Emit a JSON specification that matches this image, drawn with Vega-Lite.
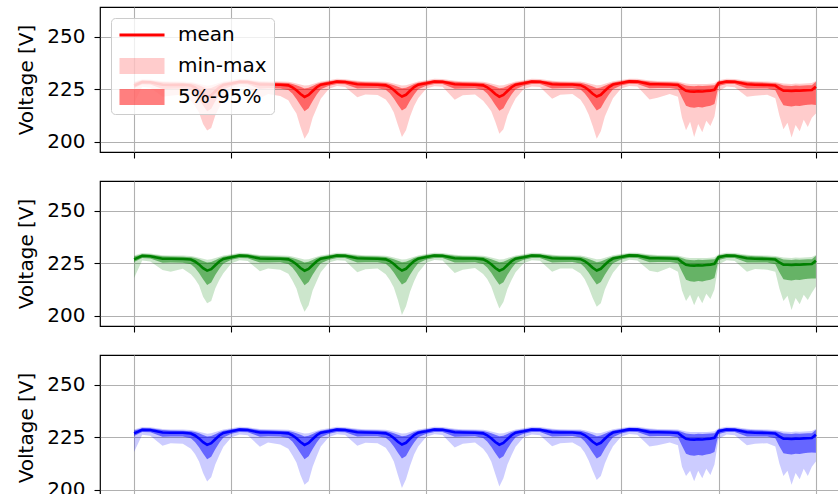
{
"$schema": "https://vega.github.io/schema/vega-lite/v6.json",
"background": "white",
"padding": {"left": 16, "top": 6, "right": 0, "bottom": 0},
"spacing": 29,
"bounds": "flush",
"config": {
  "font": "DejaVu Sans",
  "view": {"stroke": "black", "strokeWidth": 1.2},
  "axis": {"labelFont": "DejaVu Sans", "labelFontSize": 20, "labelColor": "black", "titleFont": "DejaVu Sans", "titleFontSize": 20, "titleFontWeight": "normal", "titleColor": "black", "tickColor": "black", "tickWidth": 1.1, "tickSize": 6, "gridColor": "#b0b0b0", "gridWidth": 1.1, "domain": false, "labelPadding": 9, "titlePadding": 10}
},
"datasets": {"v": [
{"p":1,"t":0,"m":226.8,"a":225.6,"b":228.2,"l":218.5,"h":228.6},
{"p":1,"t":2,"m":228.5,"a":227.4,"b":229.3,"l":226.2,"h":229.8},
{"p":1,"t":4,"m":228.4,"a":227.3,"b":229.2,"l":225.8,"h":229.7},
{"p":1,"t":7,"m":227.2,"a":225.2,"b":228.4,"l":221.5,"h":228.9},
{"p":1,"t":9,"m":227.1,"a":225.3,"b":228.3,"l":222.0,"h":228.8},
{"p":1,"t":12,"m":227.2,"a":225.4,"b":228.2,"l":222.5,"h":228.7},
{"p":1,"t":14,"m":226.8,"a":224.6,"b":227.9,"l":219.5,"h":228.5},
{"p":1,"t":15,"m":225.9,"a":222.8,"b":227.5,"l":217.0,"h":228.2},
{"p":1,"t":16,"m":224.5,"a":220.3,"b":226.9,"l":214.0,"h":227.7},
{"p":1,"t":17,"m":222.7,"a":217.3,"b":226.1,"l":208.5,"h":227.2},
{"p":1,"t":18,"m":221.4,"a":214.6,"b":225.4,"l":205.4,"h":226.7},
{"p":1,"t":19,"m":222.2,"a":215.8,"b":225.7,"l":206.5,"h":226.9},
{"p":1,"t":20,"m":224.1,"a":219.3,"b":226.5,"l":212.5,"h":227.5},
{"p":1,"t":21,"m":225.9,"a":222.4,"b":227.4,"l":216.5,"h":228.1},
{"p":1,"t":22,"m":227.1,"a":224.9,"b":228.1,"l":220.0,"h":228.7},
{"p":1,"t":24,"m":227.8,"a":226.6,"b":228.8,"l":225.2,"h":229.3},
{"p":1,"t":26,"m":228.6,"a":227.5,"b":229.4,"l":226.4,"h":229.9},
{"p":1,"t":28,"m":228.5,"a":227.4,"b":229.3,"l":226.0,"h":229.8},
{"p":1,"t":31,"m":227.3,"a":225.3,"b":228.5,"l":220.8,"h":229.0},
{"p":1,"t":33,"m":227.3,"a":225.5,"b":228.4,"l":222.8,"h":228.9},
{"p":1,"t":36,"m":227.2,"a":225.4,"b":228.2,"l":221.8,"h":228.8},
{"p":1,"t":38,"m":226.9,"a":224.7,"b":228.0,"l":219.8,"h":228.6},
{"p":1,"t":39,"m":226.0,"a":223.0,"b":227.6,"l":216.5,"h":228.3},
{"p":1,"t":40,"m":224.6,"a":220.4,"b":227.0,"l":213.5,"h":227.8},
{"p":1,"t":41,"m":222.8,"a":217.4,"b":226.2,"l":207.0,"h":227.3},
{"p":1,"t":42,"m":221.4,"a":214.5,"b":225.4,"l":201.4,"h":226.8},
{"p":1,"t":43,"m":222.3,"a":216.0,"b":225.8,"l":204.5,"h":227.0},
{"p":1,"t":44,"m":224.2,"a":219.4,"b":226.6,"l":211.5,"h":227.6},
{"p":1,"t":45,"m":226.0,"a":222.5,"b":227.5,"l":216.0,"h":228.2},
{"p":1,"t":46,"m":227.2,"a":225.0,"b":228.2,"l":220.5,"h":228.8},
{"p":1,"t":48,"m":227.9,"a":226.7,"b":228.9,"l":225.3,"h":229.4},
{"p":1,"t":50,"m":228.7,"a":227.6,"b":229.5,"l":226.6,"h":230.0},
{"p":1,"t":52,"m":228.5,"a":227.4,"b":229.3,"l":226.1,"h":229.8},
{"p":1,"t":55,"m":227.4,"a":225.4,"b":228.6,"l":221.2,"h":229.1},
{"p":1,"t":57,"m":227.3,"a":225.5,"b":228.4,"l":222.6,"h":228.9},
{"p":1,"t":60,"m":227.2,"a":225.5,"b":228.3,"l":222.3,"h":228.8},
{"p":1,"t":62,"m":226.9,"a":224.8,"b":228.0,"l":220.2,"h":228.6},
{"p":1,"t":63,"m":226.1,"a":223.1,"b":227.6,"l":217.5,"h":228.3},
{"p":1,"t":64,"m":224.7,"a":220.6,"b":227.0,"l":214.0,"h":227.8},
{"p":1,"t":65,"m":222.9,"a":217.6,"b":226.2,"l":208.0,"h":227.3},
{"p":1,"t":66,"m":221.6,"a":214.9,"b":225.5,"l":202.2,"h":226.8},
{"p":1,"t":67,"m":222.4,"a":216.1,"b":225.8,"l":205.5,"h":227.0},
{"p":1,"t":68,"m":224.3,"a":219.6,"b":226.6,"l":212.0,"h":227.6},
{"p":1,"t":69,"m":226.1,"a":222.6,"b":227.5,"l":217.0,"h":228.2},
{"p":1,"t":70,"m":227.2,"a":225.0,"b":228.2,"l":220.8,"h":228.8},
{"p":1,"t":72,"m":227.9,"a":226.7,"b":228.9,"l":225.4,"h":229.4},
{"p":1,"t":74,"m":228.7,"a":227.6,"b":229.5,"l":226.5,"h":230.0},
{"p":1,"t":76,"m":228.6,"a":227.5,"b":229.4,"l":226.2,"h":229.9},
{"p":1,"t":79,"m":227.4,"a":225.3,"b":228.6,"l":220.0,"h":229.1},
{"p":1,"t":81,"m":227.3,"a":225.4,"b":228.4,"l":222.2,"h":228.9},
{"p":1,"t":84,"m":227.2,"a":225.5,"b":228.3,"l":222.6,"h":228.8},
{"p":1,"t":86,"m":226.9,"a":224.7,"b":228.0,"l":219.6,"h":228.6},
{"p":1,"t":87,"m":226.0,"a":223.0,"b":227.6,"l":217.2,"h":228.3},
{"p":1,"t":88,"m":224.6,"a":220.5,"b":227.0,"l":214.5,"h":227.8},
{"p":1,"t":89,"m":222.8,"a":217.5,"b":226.2,"l":209.5,"h":227.3},
{"p":1,"t":90,"m":221.5,"a":214.8,"b":225.5,"l":203.8,"h":226.8},
{"p":1,"t":91,"m":222.3,"a":216.0,"b":225.8,"l":206.0,"h":227.0},
{"p":1,"t":92,"m":224.2,"a":219.5,"b":226.6,"l":212.5,"h":227.6},
{"p":1,"t":93,"m":226.0,"a":222.5,"b":227.5,"l":216.8,"h":228.2},
{"p":1,"t":94,"m":227.2,"a":225.0,"b":228.2,"l":220.6,"h":228.8},
{"p":1,"t":96,"m":227.9,"a":226.7,"b":228.9,"l":225.2,"h":229.4},
{"p":1,"t":98,"m":228.7,"a":227.6,"b":229.5,"l":226.4,"h":230.0},
{"p":1,"t":100,"m":228.6,"a":227.5,"b":229.4,"l":226.1,"h":229.9},
{"p":1,"t":103,"m":227.4,"a":225.4,"b":228.6,"l":220.5,"h":229.1},
{"p":1,"t":105,"m":227.3,"a":225.5,"b":228.4,"l":222.4,"h":228.9},
{"p":1,"t":108,"m":227.3,"a":225.6,"b":228.3,"l":222.8,"h":228.8},
{"p":1,"t":110,"m":227.0,"a":224.9,"b":228.1,"l":220.0,"h":228.7},
{"p":1,"t":111,"m":226.1,"a":223.1,"b":227.7,"l":217.0,"h":228.4},
{"p":1,"t":112,"m":224.7,"a":220.6,"b":227.1,"l":213.0,"h":227.9},
{"p":1,"t":113,"m":222.9,"a":217.6,"b":226.3,"l":207.5,"h":227.4},
{"p":1,"t":114,"m":221.6,"a":214.9,"b":225.5,"l":201.4,"h":226.9},
{"p":1,"t":115,"m":222.4,"a":216.1,"b":225.9,"l":205.0,"h":227.1},
{"p":1,"t":116,"m":224.3,"a":219.6,"b":226.7,"l":212.0,"h":227.7},
{"p":1,"t":117,"m":226.1,"a":222.6,"b":227.6,"l":216.5,"h":228.3},
{"p":1,"t":118,"m":227.3,"a":225.1,"b":228.3,"l":220.8,"h":228.9},
{"p":1,"t":120,"m":228.0,"a":226.8,"b":229.0,"l":225.4,"h":229.5},
{"p":1,"t":122,"m":228.8,"a":227.7,"b":229.6,"l":226.6,"h":230.1},
{"p":1,"t":124,"m":228.7,"a":227.6,"b":229.5,"l":226.3,"h":230.0},
{"p":1,"t":127,"m":227.5,"a":225.5,"b":228.7,"l":220.2,"h":229.2},
{"p":1,"t":129,"m":227.4,"a":225.6,"b":228.5,"l":221.0,"h":229.0},
{"p":1,"t":132,"m":227.3,"a":225.6,"b":228.4,"l":222.8,"h":228.9},
{"p":1,"t":134,"m":227.1,"a":225.0,"b":228.2,"l":221.5,"h":228.7},
{"p":1,"t":135,"m":225.6,"a":221.0,"b":227.6,"l":211.5,"h":228.3},
{"p":1,"t":136,"m":224.3,"a":217.2,"b":226.8,"l":205.5,"h":227.8},
{"p":1,"t":137,"m":224.0,"a":216.5,"b":226.6,"l":209.5,"h":227.6},
{"p":1,"t":138,"m":223.9,"a":216.2,"b":226.5,"l":202.2,"h":227.5},
{"p":1,"t":139,"m":224.1,"a":216.6,"b":226.7,"l":208.5,"h":227.6},
{"p":1,"t":140,"m":224.0,"a":216.3,"b":226.6,"l":204.5,"h":227.5},
{"p":1,"t":141,"m":224.2,"a":216.8,"b":226.7,"l":210.0,"h":227.6},
{"p":1,"t":142,"m":224.4,"a":217.2,"b":226.8,"l":207.5,"h":227.7},
{"p":1,"t":143,"m":224.8,"a":218.0,"b":227.0,"l":212.0,"h":227.9},
{"p":1,"t":144,"m":227.9,"a":226.6,"b":228.9,"l":224.0,"h":229.4},
{"p":1,"t":146,"m":228.7,"a":227.6,"b":229.5,"l":226.4,"h":230.0},
{"p":1,"t":148,"m":228.6,"a":227.5,"b":229.4,"l":226.0,"h":229.9},
{"p":1,"t":151,"m":227.4,"a":225.4,"b":228.6,"l":221.5,"h":229.1},
{"p":1,"t":153,"m":227.2,"a":225.4,"b":228.4,"l":222.0,"h":228.9},
{"p":1,"t":156,"m":227.1,"a":225.4,"b":228.2,"l":222.4,"h":228.7},
{"p":1,"t":158,"m":226.8,"a":224.6,"b":227.9,"l":220.8,"h":228.5},
{"p":1,"t":159,"m":225.4,"a":220.8,"b":227.5,"l":212.5,"h":228.2},
{"p":1,"t":160,"m":224.4,"a":217.4,"b":226.8,"l":206.0,"h":227.8},
{"p":1,"t":161,"m":224.3,"a":217.0,"b":226.7,"l":209.0,"h":227.7},
{"p":1,"t":162,"m":224.2,"a":216.8,"b":226.6,"l":202.0,"h":227.6},
{"p":1,"t":163,"m":224.4,"a":217.2,"b":226.8,"l":208.0,"h":227.8},
{"p":1,"t":164,"m":224.3,"a":217.0,"b":226.7,"l":205.0,"h":227.7},
{"p":1,"t":165,"m":224.5,"a":217.4,"b":226.8,"l":210.5,"h":227.8},
{"p":1,"t":166,"m":224.6,"a":217.6,"b":226.9,"l":207.0,"h":227.9},
{"p":1,"t":167,"m":224.7,"a":217.8,"b":227.0,"l":211.5,"h":228.0},
{"p":1,"t":168,"m":226.3,"a":217.5,"b":228.6,"l":213.5,"h":229.0},
{"p":2,"t":0,"m":226.9,"a":225.7,"b":228.3,"l":218.0,"h":228.7},
{"p":2,"t":2,"m":228.6,"a":227.5,"b":229.4,"l":226.3,"h":229.9},
{"p":2,"t":4,"m":228.4,"a":227.3,"b":229.2,"l":225.9,"h":229.7},
{"p":2,"t":7,"m":227.2,"a":225.3,"b":228.4,"l":221.8,"h":228.9},
{"p":2,"t":9,"m":227.2,"a":225.4,"b":228.3,"l":221.0,"h":228.8},
{"p":2,"t":12,"m":227.1,"a":225.3,"b":228.2,"l":222.4,"h":228.7},
{"p":2,"t":14,"m":226.8,"a":224.6,"b":227.9,"l":219.8,"h":228.5},
{"p":2,"t":15,"m":225.9,"a":222.9,"b":227.5,"l":217.5,"h":228.2},
{"p":2,"t":16,"m":224.5,"a":220.4,"b":226.9,"l":214.5,"h":227.7},
{"p":2,"t":17,"m":222.7,"a":217.4,"b":226.1,"l":209.0,"h":227.2},
{"p":2,"t":18,"m":221.5,"a":214.7,"b":225.4,"l":205.9,"h":226.7},
{"p":2,"t":19,"m":222.2,"a":215.9,"b":225.7,"l":207.0,"h":226.9},
{"p":2,"t":20,"m":224.1,"a":219.4,"b":226.5,"l":213.0,"h":227.5},
{"p":2,"t":21,"m":225.9,"a":222.4,"b":227.4,"l":217.0,"h":228.1},
{"p":2,"t":22,"m":227.1,"a":224.9,"b":228.1,"l":220.3,"h":228.7},
{"p":2,"t":24,"m":227.9,"a":226.7,"b":228.9,"l":225.0,"h":229.4},
{"p":2,"t":26,"m":228.7,"a":227.6,"b":229.5,"l":226.5,"h":230.0},
{"p":2,"t":28,"m":228.5,"a":227.4,"b":229.3,"l":226.1,"h":229.8},
{"p":2,"t":31,"m":227.3,"a":225.4,"b":228.5,"l":221.2,"h":229.0},
{"p":2,"t":33,"m":227.2,"a":225.4,"b":228.4,"l":222.5,"h":228.9},
{"p":2,"t":36,"m":227.2,"a":225.5,"b":228.2,"l":222.0,"h":228.8},
{"p":2,"t":38,"m":226.9,"a":224.7,"b":228.0,"l":220.0,"h":228.6},
{"p":2,"t":39,"m":226.0,"a":223.0,"b":227.6,"l":216.8,"h":228.3},
{"p":2,"t":40,"m":224.6,"a":220.5,"b":227.0,"l":213.0,"h":227.8},
{"p":2,"t":41,"m":222.8,"a":217.5,"b":226.2,"l":206.5,"h":227.3},
{"p":2,"t":42,"m":221.5,"a":214.6,"b":225.4,"l":201.9,"h":226.8},
{"p":2,"t":43,"m":222.3,"a":216.1,"b":225.8,"l":205.0,"h":227.0},
{"p":2,"t":44,"m":224.2,"a":219.5,"b":226.6,"l":212.0,"h":227.6},
{"p":2,"t":45,"m":226.0,"a":222.5,"b":227.5,"l":216.5,"h":228.2},
{"p":2,"t":46,"m":227.2,"a":225.0,"b":228.2,"l":220.8,"h":228.8},
{"p":2,"t":48,"m":227.9,"a":226.7,"b":228.9,"l":225.4,"h":229.4},
{"p":2,"t":50,"m":228.7,"a":227.6,"b":229.5,"l":226.5,"h":230.0},
{"p":2,"t":52,"m":228.6,"a":227.5,"b":229.4,"l":226.2,"h":229.9},
{"p":2,"t":55,"m":227.4,"a":225.4,"b":228.6,"l":220.8,"h":229.1},
{"p":2,"t":57,"m":227.3,"a":225.5,"b":228.4,"l":222.2,"h":228.9},
{"p":2,"t":60,"m":227.2,"a":225.5,"b":228.3,"l":222.6,"h":228.8},
{"p":2,"t":62,"m":226.9,"a":224.8,"b":228.0,"l":219.8,"h":228.6},
{"p":2,"t":63,"m":226.1,"a":223.1,"b":227.6,"l":217.0,"h":228.3},
{"p":2,"t":64,"m":224.7,"a":220.6,"b":227.0,"l":213.5,"h":227.8},
{"p":2,"t":65,"m":222.9,"a":217.6,"b":226.2,"l":207.5,"h":227.3},
{"p":2,"t":66,"m":221.6,"a":214.9,"b":225.5,"l":200.3,"h":226.8},
{"p":2,"t":67,"m":222.4,"a":216.1,"b":225.8,"l":204.5,"h":227.0},
{"p":2,"t":68,"m":224.3,"a":219.6,"b":226.6,"l":211.5,"h":227.6},
{"p":2,"t":69,"m":226.1,"a":222.6,"b":227.5,"l":216.5,"h":228.2},
{"p":2,"t":70,"m":227.2,"a":225.0,"b":228.2,"l":220.5,"h":228.8},
{"p":2,"t":72,"m":228.0,"a":226.8,"b":229.0,"l":225.3,"h":229.5},
{"p":2,"t":74,"m":228.7,"a":227.6,"b":229.5,"l":226.6,"h":230.0},
{"p":2,"t":76,"m":228.6,"a":227.5,"b":229.4,"l":226.3,"h":229.9},
{"p":2,"t":79,"m":227.4,"a":225.4,"b":228.6,"l":220.4,"h":229.1},
{"p":2,"t":81,"m":227.3,"a":225.4,"b":228.4,"l":222.0,"h":228.9},
{"p":2,"t":84,"m":227.3,"a":225.5,"b":228.3,"l":222.8,"h":228.8},
{"p":2,"t":86,"m":226.9,"a":224.7,"b":228.0,"l":219.9,"h":228.6},
{"p":2,"t":87,"m":226.0,"a":223.0,"b":227.6,"l":217.5,"h":228.3},
{"p":2,"t":88,"m":224.6,"a":220.5,"b":227.0,"l":214.0,"h":227.8},
{"p":2,"t":89,"m":222.8,"a":217.5,"b":226.2,"l":208.5,"h":227.3},
{"p":2,"t":90,"m":221.5,"a":214.8,"b":225.5,"l":203.5,"h":226.8},
{"p":2,"t":91,"m":222.3,"a":216.0,"b":225.8,"l":206.5,"h":227.0},
{"p":2,"t":92,"m":224.2,"a":219.5,"b":226.6,"l":212.8,"h":227.6},
{"p":2,"t":93,"m":226.0,"a":222.5,"b":227.5,"l":217.0,"h":228.2},
{"p":2,"t":94,"m":227.2,"a":225.0,"b":228.2,"l":220.8,"h":228.8},
{"p":2,"t":96,"m":227.9,"a":226.7,"b":228.9,"l":225.0,"h":229.4},
{"p":2,"t":98,"m":228.7,"a":227.6,"b":229.5,"l":226.5,"h":230.0},
{"p":2,"t":100,"m":228.6,"a":227.5,"b":229.4,"l":226.2,"h":229.9},
{"p":2,"t":103,"m":227.4,"a":225.4,"b":228.6,"l":221.0,"h":229.1},
{"p":2,"t":105,"m":227.3,"a":225.5,"b":228.4,"l":222.6,"h":228.9},
{"p":2,"t":108,"m":227.3,"a":225.6,"b":228.3,"l":222.5,"h":228.8},
{"p":2,"t":110,"m":227.0,"a":224.9,"b":228.1,"l":220.2,"h":228.7},
{"p":2,"t":111,"m":226.1,"a":223.1,"b":227.7,"l":217.5,"h":228.4},
{"p":2,"t":112,"m":224.7,"a":220.6,"b":227.1,"l":213.5,"h":227.9},
{"p":2,"t":113,"m":222.9,"a":217.6,"b":226.3,"l":208.5,"h":227.4},
{"p":2,"t":114,"m":221.6,"a":214.9,"b":225.5,"l":204.3,"h":226.9},
{"p":2,"t":115,"m":222.4,"a":216.1,"b":225.9,"l":206.0,"h":227.1},
{"p":2,"t":116,"m":224.3,"a":219.6,"b":226.7,"l":212.5,"h":227.7},
{"p":2,"t":117,"m":226.1,"a":222.6,"b":227.6,"l":216.8,"h":228.3},
{"p":2,"t":118,"m":227.3,"a":225.1,"b":228.3,"l":220.5,"h":228.9},
{"p":2,"t":120,"m":228.0,"a":226.8,"b":229.0,"l":225.2,"h":229.5},
{"p":2,"t":122,"m":228.8,"a":227.7,"b":229.6,"l":226.7,"h":230.1},
{"p":2,"t":124,"m":228.7,"a":227.6,"b":229.5,"l":226.4,"h":230.0},
{"p":2,"t":127,"m":227.5,"a":225.5,"b":228.7,"l":221.5,"h":229.2},
{"p":2,"t":129,"m":227.4,"a":225.6,"b":228.5,"l":220.8,"h":229.0},
{"p":2,"t":132,"m":227.3,"a":225.6,"b":228.4,"l":223.0,"h":228.9},
{"p":2,"t":134,"m":227.1,"a":225.0,"b":228.2,"l":221.0,"h":228.7},
{"p":2,"t":135,"m":225.6,"a":221.0,"b":227.6,"l":212.0,"h":228.3},
{"p":2,"t":136,"m":224.3,"a":217.2,"b":226.8,"l":207.0,"h":227.8},
{"p":2,"t":137,"m":224.0,"a":216.5,"b":226.6,"l":210.0,"h":227.6},
{"p":2,"t":138,"m":223.9,"a":216.2,"b":226.5,"l":205.0,"h":227.5},
{"p":2,"t":139,"m":224.1,"a":216.6,"b":226.7,"l":209.5,"h":227.6},
{"p":2,"t":140,"m":224.0,"a":216.3,"b":226.6,"l":206.0,"h":227.5},
{"p":2,"t":141,"m":224.2,"a":216.8,"b":226.7,"l":210.5,"h":227.6},
{"p":2,"t":142,"m":224.4,"a":217.2,"b":226.8,"l":208.0,"h":227.7},
{"p":2,"t":143,"m":224.8,"a":218.0,"b":227.0,"l":212.5,"h":227.9},
{"p":2,"t":144,"m":227.9,"a":226.6,"b":228.9,"l":224.5,"h":229.4},
{"p":2,"t":146,"m":228.7,"a":227.6,"b":229.5,"l":226.5,"h":230.0},
{"p":2,"t":148,"m":228.6,"a":227.5,"b":229.4,"l":226.1,"h":229.9},
{"p":2,"t":151,"m":227.4,"a":225.4,"b":228.6,"l":221.0,"h":229.1},
{"p":2,"t":153,"m":227.2,"a":225.4,"b":228.4,"l":222.3,"h":228.9},
{"p":2,"t":156,"m":227.1,"a":225.4,"b":228.2,"l":222.0,"h":228.7},
{"p":2,"t":158,"m":226.8,"a":224.6,"b":227.9,"l":221.0,"h":228.5},
{"p":2,"t":159,"m":225.4,"a":220.8,"b":227.5,"l":213.0,"h":228.2},
{"p":2,"t":160,"m":224.4,"a":217.4,"b":226.8,"l":207.0,"h":227.8},
{"p":2,"t":161,"m":224.3,"a":217.0,"b":226.7,"l":209.5,"h":227.7},
{"p":2,"t":162,"m":224.2,"a":216.8,"b":226.6,"l":202.7,"h":227.6},
{"p":2,"t":163,"m":224.4,"a":217.2,"b":226.8,"l":208.5,"h":227.8},
{"p":2,"t":164,"m":224.3,"a":217.0,"b":226.7,"l":205.5,"h":227.7},
{"p":2,"t":165,"m":224.5,"a":217.4,"b":226.8,"l":210.0,"h":227.8},
{"p":2,"t":166,"m":224.6,"a":217.6,"b":226.9,"l":207.5,"h":227.9},
{"p":2,"t":167,"m":224.7,"a":217.8,"b":227.0,"l":211.0,"h":228.0},
{"p":2,"t":168,"m":226.3,"a":217.8,"b":228.6,"l":214.0,"h":229.0},
{"p":3,"t":0,"m":226.9,"a":225.6,"b":228.3,"l":218.0,"h":228.7},
{"p":3,"t":2,"m":228.6,"a":227.5,"b":229.4,"l":226.2,"h":229.9},
{"p":3,"t":4,"m":228.5,"a":227.4,"b":229.3,"l":225.8,"h":229.8},
{"p":3,"t":7,"m":227.3,"a":225.3,"b":228.5,"l":221.0,"h":229.0},
{"p":3,"t":9,"m":227.2,"a":225.4,"b":228.3,"l":222.2,"h":228.8},
{"p":3,"t":12,"m":227.2,"a":225.4,"b":228.2,"l":222.0,"h":228.7},
{"p":3,"t":14,"m":226.8,"a":224.6,"b":227.9,"l":219.5,"h":228.5},
{"p":3,"t":15,"m":225.9,"a":222.8,"b":227.5,"l":217.0,"h":228.2},
{"p":3,"t":16,"m":224.5,"a":220.3,"b":226.9,"l":213.5,"h":227.7},
{"p":3,"t":17,"m":222.7,"a":217.3,"b":226.1,"l":208.0,"h":227.2},
{"p":3,"t":18,"m":221.4,"a":214.6,"b":225.4,"l":203.9,"h":226.7},
{"p":3,"t":19,"m":222.2,"a":215.8,"b":225.7,"l":206.0,"h":226.9},
{"p":3,"t":20,"m":224.1,"a":219.3,"b":226.5,"l":212.0,"h":227.5},
{"p":3,"t":21,"m":225.9,"a":222.4,"b":227.4,"l":216.5,"h":228.1},
{"p":3,"t":22,"m":227.1,"a":224.9,"b":228.1,"l":220.5,"h":228.7},
{"p":3,"t":24,"m":227.9,"a":226.7,"b":228.9,"l":225.1,"h":229.4},
{"p":3,"t":26,"m":228.7,"a":227.6,"b":229.5,"l":226.4,"h":230.0},
{"p":3,"t":28,"m":228.5,"a":227.4,"b":229.3,"l":226.0,"h":229.8},
{"p":3,"t":31,"m":227.3,"a":225.3,"b":228.5,"l":220.5,"h":229.0},
{"p":3,"t":33,"m":227.3,"a":225.5,"b":228.4,"l":222.6,"h":228.9},
{"p":3,"t":36,"m":227.2,"a":225.4,"b":228.2,"l":221.6,"h":228.8},
{"p":3,"t":38,"m":226.9,"a":224.7,"b":228.0,"l":219.6,"h":228.6},
{"p":3,"t":39,"m":226.0,"a":223.0,"b":227.6,"l":216.5,"h":228.3},
{"p":3,"t":40,"m":224.6,"a":220.4,"b":227.0,"l":213.0,"h":227.8},
{"p":3,"t":41,"m":222.8,"a":217.4,"b":226.2,"l":207.0,"h":227.3},
{"p":3,"t":42,"m":221.4,"a":214.5,"b":225.4,"l":202.4,"h":226.8},
{"p":3,"t":43,"m":222.3,"a":216.0,"b":225.8,"l":204.0,"h":227.0},
{"p":3,"t":44,"m":224.2,"a":219.4,"b":226.6,"l":211.0,"h":227.6},
{"p":3,"t":45,"m":226.0,"a":222.5,"b":227.5,"l":216.0,"h":228.2},
{"p":3,"t":46,"m":227.2,"a":225.0,"b":228.2,"l":220.6,"h":228.8},
{"p":3,"t":48,"m":227.9,"a":226.7,"b":228.9,"l":225.2,"h":229.4},
{"p":3,"t":50,"m":228.7,"a":227.6,"b":229.5,"l":226.5,"h":230.0},
{"p":3,"t":52,"m":228.5,"a":227.4,"b":229.3,"l":226.1,"h":229.8},
{"p":3,"t":55,"m":227.4,"a":225.4,"b":228.6,"l":221.0,"h":229.1},
{"p":3,"t":57,"m":227.3,"a":225.5,"b":228.4,"l":222.4,"h":228.9},
{"p":3,"t":60,"m":227.2,"a":225.5,"b":228.3,"l":222.2,"h":228.8},
{"p":3,"t":62,"m":226.9,"a":224.8,"b":228.0,"l":220.0,"h":228.6},
{"p":3,"t":63,"m":226.1,"a":223.1,"b":227.6,"l":217.2,"h":228.3},
{"p":3,"t":64,"m":224.7,"a":220.6,"b":227.0,"l":213.5,"h":227.8},
{"p":3,"t":65,"m":222.9,"a":217.6,"b":226.2,"l":207.0,"h":227.3},
{"p":3,"t":66,"m":221.6,"a":214.9,"b":225.5,"l":200.8,"h":226.8},
{"p":3,"t":67,"m":222.4,"a":216.1,"b":225.8,"l":205.0,"h":227.0},
{"p":3,"t":68,"m":224.3,"a":219.6,"b":226.6,"l":211.5,"h":227.6},
{"p":3,"t":69,"m":226.1,"a":222.6,"b":227.5,"l":216.8,"h":228.2},
{"p":3,"t":70,"m":227.2,"a":225.0,"b":228.2,"l":220.6,"h":228.8},
{"p":3,"t":72,"m":227.9,"a":226.7,"b":228.9,"l":225.3,"h":229.4},
{"p":3,"t":74,"m":228.7,"a":227.6,"b":229.5,"l":226.5,"h":230.0},
{"p":3,"t":76,"m":228.6,"a":227.5,"b":229.4,"l":226.1,"h":229.9},
{"p":3,"t":79,"m":227.4,"a":225.3,"b":228.6,"l":220.2,"h":229.1},
{"p":3,"t":81,"m":227.3,"a":225.4,"b":228.4,"l":222.0,"h":228.9},
{"p":3,"t":84,"m":227.2,"a":225.5,"b":228.3,"l":222.5,"h":228.8},
{"p":3,"t":86,"m":226.9,"a":224.7,"b":228.0,"l":219.5,"h":228.6},
{"p":3,"t":87,"m":226.0,"a":223.0,"b":227.6,"l":217.0,"h":228.3},
{"p":3,"t":88,"m":224.6,"a":220.5,"b":227.0,"l":213.5,"h":227.8},
{"p":3,"t":89,"m":222.8,"a":217.5,"b":226.2,"l":207.5,"h":227.3},
{"p":3,"t":90,"m":221.5,"a":214.8,"b":225.5,"l":201.6,"h":226.8},
{"p":3,"t":91,"m":222.3,"a":216.0,"b":225.8,"l":205.5,"h":227.0},
{"p":3,"t":92,"m":224.2,"a":219.5,"b":226.6,"l":212.0,"h":227.6},
{"p":3,"t":93,"m":226.0,"a":222.5,"b":227.5,"l":216.5,"h":228.2},
{"p":3,"t":94,"m":227.2,"a":225.0,"b":228.2,"l":220.5,"h":228.8},
{"p":3,"t":96,"m":227.9,"a":226.7,"b":228.9,"l":225.1,"h":229.4},
{"p":3,"t":98,"m":228.7,"a":227.6,"b":229.5,"l":226.3,"h":230.0},
{"p":3,"t":100,"m":228.6,"a":227.5,"b":229.4,"l":226.0,"h":229.9},
{"p":3,"t":103,"m":227.4,"a":225.4,"b":228.6,"l":220.8,"h":229.1},
{"p":3,"t":105,"m":227.3,"a":225.5,"b":228.4,"l":222.2,"h":228.9},
{"p":3,"t":108,"m":227.3,"a":225.6,"b":228.3,"l":222.6,"h":228.8},
{"p":3,"t":110,"m":227.0,"a":224.9,"b":228.1,"l":220.4,"h":228.7},
{"p":3,"t":111,"m":226.1,"a":223.1,"b":227.7,"l":217.8,"h":228.4},
{"p":3,"t":112,"m":224.7,"a":220.6,"b":227.1,"l":214.0,"h":227.9},
{"p":3,"t":113,"m":222.9,"a":217.6,"b":226.3,"l":209.0,"h":227.4},
{"p":3,"t":114,"m":221.6,"a":214.9,"b":225.5,"l":204.7,"h":226.9},
{"p":3,"t":115,"m":222.4,"a":216.1,"b":225.9,"l":206.5,"h":227.1},
{"p":3,"t":116,"m":224.3,"a":219.6,"b":226.7,"l":212.5,"h":227.7},
{"p":3,"t":117,"m":226.1,"a":222.6,"b":227.6,"l":217.0,"h":228.3},
{"p":3,"t":118,"m":227.3,"a":225.1,"b":228.3,"l":220.8,"h":228.9},
{"p":3,"t":120,"m":228.0,"a":226.8,"b":229.0,"l":225.3,"h":229.5},
{"p":3,"t":122,"m":228.8,"a":227.7,"b":229.6,"l":226.6,"h":230.1},
{"p":3,"t":124,"m":228.7,"a":227.6,"b":229.5,"l":226.2,"h":230.0},
{"p":3,"t":127,"m":227.5,"a":225.5,"b":228.7,"l":220.6,"h":229.2},
{"p":3,"t":129,"m":227.4,"a":225.6,"b":228.5,"l":221.2,"h":229.0},
{"p":3,"t":132,"m":227.3,"a":225.6,"b":228.4,"l":222.6,"h":228.9},
{"p":3,"t":134,"m":227.1,"a":225.0,"b":228.2,"l":221.2,"h":228.7},
{"p":3,"t":135,"m":225.6,"a":221.0,"b":227.6,"l":211.0,"h":228.3},
{"p":3,"t":136,"m":224.3,"a":217.2,"b":226.8,"l":206.5,"h":227.8},
{"p":3,"t":137,"m":224.0,"a":216.5,"b":226.6,"l":209.0,"h":227.6},
{"p":3,"t":138,"m":223.9,"a":216.2,"b":226.5,"l":204.0,"h":227.5},
{"p":3,"t":139,"m":224.1,"a":216.6,"b":226.7,"l":209.0,"h":227.6},
{"p":3,"t":140,"m":224.0,"a":216.3,"b":226.6,"l":205.5,"h":227.5},
{"p":3,"t":141,"m":224.2,"a":216.8,"b":226.7,"l":210.0,"h":227.6},
{"p":3,"t":142,"m":224.4,"a":217.2,"b":226.8,"l":207.0,"h":227.7},
{"p":3,"t":143,"m":224.8,"a":218.0,"b":227.0,"l":212.0,"h":227.9},
{"p":3,"t":144,"m":227.9,"a":226.6,"b":228.9,"l":224.2,"h":229.4},
{"p":3,"t":146,"m":228.7,"a":227.6,"b":229.5,"l":226.3,"h":230.0},
{"p":3,"t":148,"m":228.6,"a":227.5,"b":229.4,"l":226.0,"h":229.9},
{"p":3,"t":151,"m":227.4,"a":225.4,"b":228.6,"l":221.2,"h":229.1},
{"p":3,"t":153,"m":227.2,"a":225.4,"b":228.4,"l":222.0,"h":228.9},
{"p":3,"t":156,"m":227.1,"a":225.4,"b":228.2,"l":222.2,"h":228.7},
{"p":3,"t":158,"m":226.8,"a":224.6,"b":227.9,"l":220.6,"h":228.5},
{"p":3,"t":159,"m":225.4,"a":220.8,"b":227.5,"l":212.5,"h":228.2},
{"p":3,"t":160,"m":224.4,"a":217.4,"b":226.8,"l":206.5,"h":227.8},
{"p":3,"t":161,"m":224.3,"a":217.0,"b":226.7,"l":209.0,"h":227.7},
{"p":3,"t":162,"m":224.2,"a":216.8,"b":226.6,"l":202.4,"h":227.6},
{"p":3,"t":163,"m":224.4,"a":217.2,"b":226.8,"l":208.0,"h":227.8},
{"p":3,"t":164,"m":224.3,"a":217.0,"b":226.7,"l":205.0,"h":227.7},
{"p":3,"t":165,"m":224.5,"a":217.4,"b":226.8,"l":210.0,"h":227.8},
{"p":3,"t":166,"m":224.6,"a":217.6,"b":226.9,"l":206.5,"h":227.9},
{"p":3,"t":167,"m":224.7,"a":217.8,"b":227.0,"l":211.0,"h":228.0},
{"p":3,"t":168,"m":226.3,"a":217.6,"b":228.6,"l":213.5,"h":229.0}
]},
"vconcat": [
{
  "width": 750, "height": 145,
  "data": {"name": "v"},
  "transform": [{"filter": "datum.p === 1"}],
  "encoding": {"x": {"field": "t", "type": "quantitative", "scale": {"domain": [-8.4, 176.4], "nice": false, "zero": false}, "axis": {"values": [0,24,48,72,96,120,144,168], "labels": false, "title": null}}},
  "layer": [
    {"mark": {"type": "area"},
     "encoding": {
       "y": {"field": "l", "type": "quantitative", "scale": {"domain": [195.1, 264.3], "nice": false, "zero": false}, "axis": {"values": [200, 225, 250], "title": "Voltage [V]"}},
       "y2": {"field": "h"},
       "color": {"datum": "min-max", "type": "nominal", "scale": {"domain": ["mean", "min-max", "5%-95%"], "range": ["#ff0000", "rgba(255,0,0,0.2)", "rgba(255,0,0,0.5)"]},
         "legend": {"title": null, "orient": "top-left", "offset": 11, "labelFont": "DejaVu Sans", "labelFontSize": 20, "labelColor": "black", "fillColor": "rgba(255,255,255,0.8)", "strokeColor": "#cccccc", "cornerRadius": 4, "padding": 7, "symbolSize": 289, "symbolOffset": 14, "labelOffset": 26, "rowPadding": 11, "symbolType": "M-2.65,-0.94H2.65V0.94H-2.65Z",
           "encode": {"symbols": {"update": {
             "shape": {"signal": "datum.value === 'mean' ? 'M-2.65,0H2.65' : 'M-2.65,-0.94H2.65V0.94H-2.65Z'"},
             "strokeWidth": {"signal": "datum.value === 'mean' ? 2.8 : 0"},
             "opacity": {"value": 1}, "fillOpacity": {"value": 1}, "strokeOpacity": {"value": 1}}}}}}
     }},
    {"mark": {"type": "area"},
     "encoding": {"y": {"field": "a", "type": "quantitative", "axis": {"title": "Voltage [V]"}}, "y2": {"field": "b"}, "color": {"datum": "5%-95%", "type": "nominal"}}},
    {"mark": {"type": "line", "strokeWidth": 2.6},
     "encoding": {"y": {"field": "m", "type": "quantitative", "axis": {"title": "Voltage [V]"}}, "color": {"datum": "mean", "type": "nominal"}}}
  ]
},
{
  "width": 750, "height": 145,
  "data": {"name": "v"},
  "transform": [{"filter": "datum.p === 2"}],
  "encoding": {"x": {"field": "t", "type": "quantitative", "scale": {"domain": [-8.4, 176.4], "nice": false, "zero": false}, "axis": {"values": [0,24,48,72,96,120,144,168], "labels": false, "title": null}}},
  "layer": [
    {"mark": {"type": "area", "color": "#008000", "fillOpacity": 0.2},
     "encoding": {"y": {"field": "l", "type": "quantitative", "scale": {"domain": [195.1, 264.3], "nice": false, "zero": false}, "axis": {"values": [200, 225, 250], "title": "Voltage [V]"}}, "y2": {"field": "h"}}},
    {"mark": {"type": "area", "color": "#008000", "fillOpacity": 0.5},
     "encoding": {"y": {"field": "a", "type": "quantitative", "axis": {"title": "Voltage [V]"}}, "y2": {"field": "b"}}},
    {"mark": {"type": "line", "color": "#008000", "strokeWidth": 2.6},
     "encoding": {"y": {"field": "m", "type": "quantitative", "axis": {"title": "Voltage [V]"}}}}
  ]
},
{
  "width": 750, "height": 145,
  "data": {"name": "v"},
  "transform": [{"filter": "datum.p === 3"}],
  "encoding": {"x": {"field": "t", "type": "quantitative", "scale": {"domain": [-8.4, 176.4], "nice": false, "zero": false}, "axis": {"values": [0,24,48,72,96,120,144,168], "labels": false, "title": null}}},
  "layer": [
    {"mark": {"type": "area", "color": "#0000ff", "fillOpacity": 0.2},
     "encoding": {"y": {"field": "l", "type": "quantitative", "scale": {"domain": [195.1, 264.3], "nice": false, "zero": false}, "axis": {"values": [200, 225, 250], "title": "Voltage [V]"}}, "y2": {"field": "h"}}},
    {"mark": {"type": "area", "color": "#0000ff", "fillOpacity": 0.5},
     "encoding": {"y": {"field": "a", "type": "quantitative", "axis": {"title": "Voltage [V]"}}, "y2": {"field": "b"}}},
    {"mark": {"type": "line", "color": "#0000ff", "strokeWidth": 2.6},
     "encoding": {"y": {"field": "m", "type": "quantitative", "axis": {"title": "Voltage [V]"}}}}
  ]
}
]
}
